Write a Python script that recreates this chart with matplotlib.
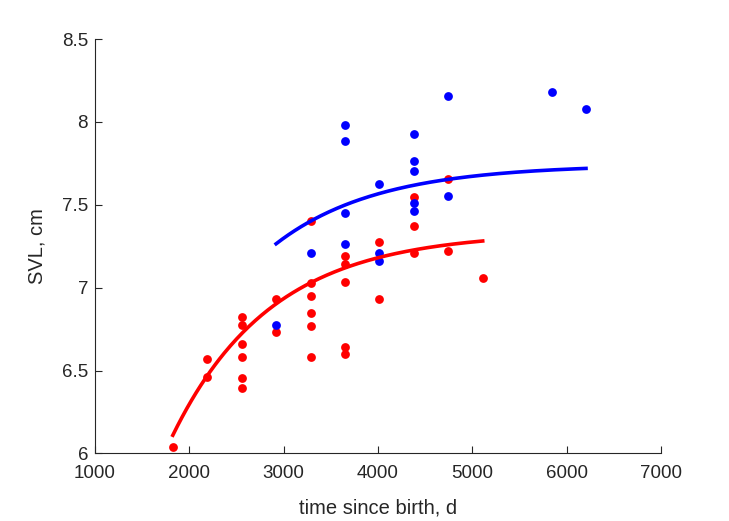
import numpy as np
import matplotlib
matplotlib.use("Agg")
import matplotlib.pyplot as plt

plt.rcParams['font.family'] = ['Liberation Sans', 'DejaVu Sans']

# Observed data: time since birth (days) and SVL (cm)
red_days = [1825, 2190, 2190,
            2555, 2555, 2555, 2555, 2555, 2555,
            2920, 2920,
            3285, 3285, 3285, 3285, 3285, 3285,
            3650, 3650, 3650, 3650, 3650,
            4015, 4015,
            4380, 4380, 4380,
            4745, 4745,
            5110]
red_svl = [6.04, 6.57, 6.46,
           6.825, 6.775, 6.66, 6.58, 6.457, 6.397,
           6.93, 6.735,
           7.405, 7.027, 6.952, 6.85, 6.769, 6.584,
           7.191, 7.141, 7.036, 6.644, 6.602,
           7.274, 6.932,
           7.545, 7.372, 7.207,
           7.654, 7.22,
           7.06]

blue_days = [2920,
             3285,
             3650, 3650, 3650, 3650,
             4015, 4015, 4015,
             4380, 4380, 4380, 4380, 4380,
             4745, 4745,
             5840, 6205]
blue_svl = [6.775,
            7.211,
            7.983, 7.885, 7.452, 7.262,
            7.625, 7.207, 7.161,
            7.929, 7.766, 7.704, 7.509, 7.464,
            8.156, 7.553,
            8.182, 8.078]

# Fitted growth curves (von Bertalanffy): L(t) = Linf - (Linf - L0) * exp(-k (t - t0))
red_fit = dict(t0=1825, t1=5110, L0=6.11, Linf=7.336, k=0.00095)
blue_fit = dict(t0=2920, t1=6205, L0=7.265, Linf=7.743, k=0.00092)

x_ticks = [1000, 2000, 3000, 4000, 5000, 6000, 7000]
y_ticks = [6, 6.5, 7, 7.5, 8, 8.5]
y_tick_labels = ['6', '6.5', '7', '7.5', '8', '8.5']

fig = plt.figure(figsize=(7.29, 5.21), dpi=100)
ax = fig.add_axes([0.1303, 0.1296, 0.7764, 0.7954])

def vb(p):
    t = np.linspace(p['t0'], p['t1'], 200)
    return t, p['Linf'] - (p['Linf'] - p['L0']) * np.exp(-p['k'] * (t - p['t0']))

ax.scatter(red_days, red_svl, s=40, color=(1, 0, 0), linewidths=0, zorder=3)
ax.scatter(blue_days, blue_svl, s=40, color=(0, 0, 1), linewidths=0, zorder=3)
t, L = vb(red_fit)
ax.plot(t, L, color=(1, 0, 0), lw=2.6, zorder=4)
t, L = vb(blue_fit)
ax.plot(t, L, color=(0, 0, 1), lw=2.6, zorder=4)

ax.set_xlim(1000, 7000)
ax.set_ylim(6, 8.5)
ax.set_xticks(x_ticks)
ax.set_yticks(y_ticks)
ax.set_yticklabels(y_tick_labels)

tc = '#262626'
for s in ['top', 'right']:
    ax.spines[s].set_visible(False)
for s in ['left', 'bottom']:
    ax.spines[s].set_color(tc)
    ax.spines[s].set_linewidth(0.8)
ax.tick_params(direction='in', length=5, width=0.8, color=tc, labelcolor=tc,
               labelsize=13.5)
ax.tick_params(axis='x', pad=8)
ax.tick_params(axis='y', pad=5)
ax.set_xlabel('time since birth, d', fontsize=14.5, color=tc, labelpad=12)
ax.set_ylabel('SVL, cm', fontsize=14.5, color=tc, labelpad=11)

fig.savefig('out.png', dpi=100)
